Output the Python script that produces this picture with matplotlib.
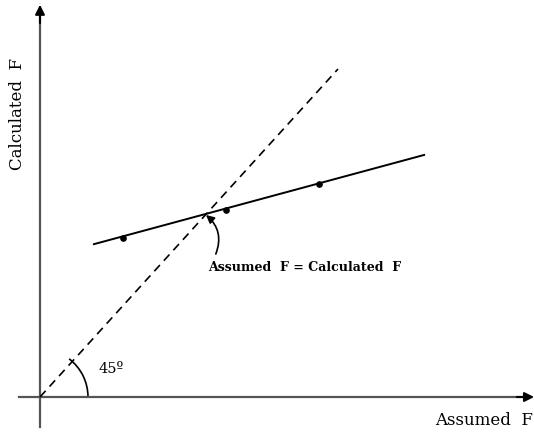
import numpy as np
import matplotlib.pyplot as plt
from matplotlib.patches import Arc

plt.rcParams['font.family'] = ['DejaVu Serif']

# trial values of F: assumed vs calculated
assumed = [2.79, 6.24, 9.36]
calculated = [4.85, 5.70, 6.49]

# straight fit through the trial points
fit_x = [1.81, 12.89]
fit_y = [4.66, 7.38]

# 45 degree line, assumed = calculated
diag = [0.0, 10.0]

# where the fit crosses the 45 degree line
cross_x, cross_y = 5.57, 5.55

fig = plt.figure(figsize=(5.34, 4.32), dpi=100)
ax = fig.add_axes([0, 0, 1, 1])
ax.set_xlim(-1.342, 16.577)
ax.set_ylim(-1.067, 12.104)
ax.axis('off')

axis_col = '#555555'
# axes with arrow heads
ax.plot([-0.7, 16.3], [0, 0], color=axis_col, lw=1.6)
ax.annotate('', xy=(16.58, 0), xytext=(16.0, 0),
            arrowprops=dict(arrowstyle='-|>', color='black', lw=1.5,
                            mutation_scale=14, shrinkA=0, shrinkB=0))
ax.plot([0, 0], [-0.9, 11.6], color=axis_col, lw=1.6)
ax.annotate('', xy=(0, 11.96), xytext=(0, 11.4),
            arrowprops=dict(arrowstyle='-|>', color='black', lw=1.5,
                            mutation_scale=14, shrinkA=0, shrinkB=0))

ax.plot(diag, diag, color='black', lw=1.2, ls=(0, (5, 3.5)))
ax.plot(fit_x, fit_y, color='black', lw=1.4)
ax.plot(assumed, calculated, 'o', color='black', ms=3.8)

# angle marker at the origin
ax.add_patch(Arc((0, 0), 2 * 48 / 29.8, 2 * 48 / 32.8, theta1=0, theta2=50,
                 color='black', lw=1.2))
ax.text(1.95, 0.85, '45º', fontsize=10.5, va='center', ha='left')

ax.annotate('', xy=(cross_x, cross_y), xytext=(5.9, 4.36),
            arrowprops=dict(arrowstyle='-|>', color='black', lw=1.2,
                            mutation_scale=12, shrinkA=0, shrinkB=0,
                            connectionstyle='arc3,rad=0.35'))
ax.text(5.63, 3.94, 'Assumed  F = Calculated  F', fontsize=9.1,
        va='center', ha='left', weight='semibold')

ax.text(16.55, -0.72, 'Assumed  F', fontsize=12, va='center', ha='right')
ax.text(-0.77, 8.64, 'Calculated  F', fontsize=12, va='center', ha='center',
        rotation=90)

fig.savefig('out.png', dpi=100)
